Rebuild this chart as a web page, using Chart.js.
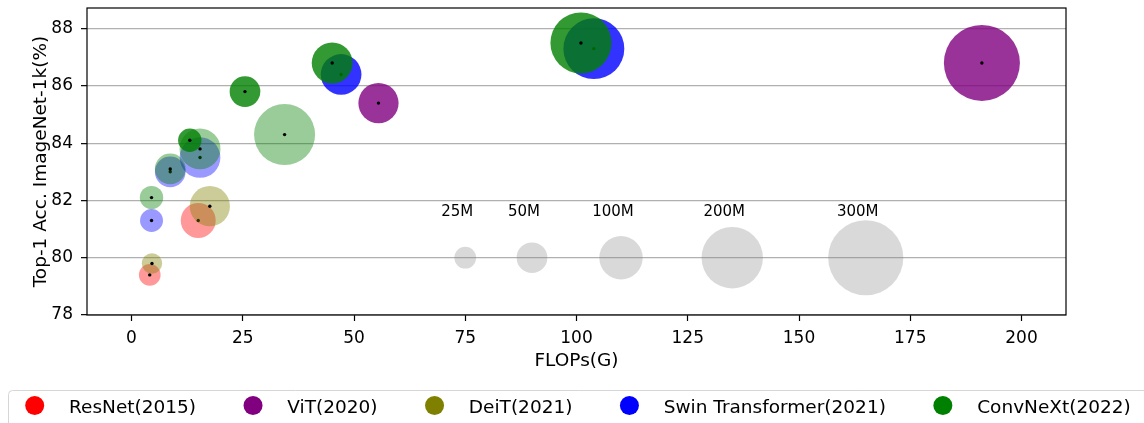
<!DOCTYPE html>
<html>
<head>
<meta charset="utf-8">
<script src="https://cdn.jsdelivr.net/npm/chart.js@4.4.1/dist/chart.umd.min.js"></script>
<style>
  body { margin: 0; background: #fff; }
</style>
</head>
<body>
<canvas id="chart" width="1144" height="423"></canvas>
<script>
// FLOPs (G), top-1 acc (%), params (M); in22k = pre-trained on ImageNet-22k (drawn darker)
const resnetFlops = [4.1, 15.0];
const resnetAcc = [79.4, 81.3];
const resnetParams = [25, 65];
const resnetIn22k = [false, false];

const vitFlops = [55.5, 191.1];
const vitAcc = [85.4, 86.8];
const vitParams = [86, 307];
const vitIn22k = [true, true];

const deitFlops = [4.6, 17.6];
const deitAcc = [79.8, 81.8];
const deitParams = [22, 86];
const deitIn22k = [false, false];

const swinFlops = [4.5, 8.7, 15.4, 47.1, 103.9];
const swinAcc = [81.3, 83.0, 83.5, 86.4, 87.3];
const swinParams = [28, 50, 88, 88, 197];
const swinIn22k = [false, false, false, true, true];

const convnextFlops = [4.5, 8.7, 15.4, 34.4, 13.1, 25.5, 45.1, 101.0];
const convnextAcc = [82.1, 83.1, 83.8, 84.3, 84.1, 85.8, 86.8, 87.5];
const convnextParams = [29, 50, 89, 198, 29, 50, 89, 198];
const convnextIn22k = [false, false, false, false, true, true, true, true];

// bubble size key
const sizeLabels = ['25M', '50M', '100M', '200M', '300M'];
const sizeFlops = [75, 90, 110, 135, 165];
const sizeAcc = [80, 80, 80, 80, 80];
const sizeParams = [25, 50, 100, 200, 300];

const xTicks = [0, 25, 50, 75, 100, 125, 150, 175, 200];
const yTicks = [78, 80, 82, 84, 86, 88];

const FONT = "'DejaVu Sans', sans-serif";

const families = [
  { label: 'ResNet(2015)', rgb: [255, 0, 0], flops: resnetFlops, acc: resnetAcc, params: resnetParams, in22k: resnetIn22k },
  { label: 'ViT(2020)', rgb: [128, 0, 128], flops: vitFlops, acc: vitAcc, params: vitParams, in22k: vitIn22k },
  { label: 'DeiT(2021)', rgb: [128, 128, 0], flops: deitFlops, acc: deitAcc, params: deitParams, in22k: deitIn22k },
  { label: 'Swin Transformer(2021)', rgb: [0, 0, 255], flops: swinFlops, acc: swinAcc, params: swinParams, in22k: swinIn22k },
  { label: 'ConvNeXt(2022)', rgb: [0, 128, 0], flops: convnextFlops, acc: convnextAcc, params: convnextParams, in22k: convnextIn22k }
];

const radius = p => 2.17 * Math.sqrt(p);
const rgba = (c, a) => `rgba(${c[0]},${c[1]},${c[2]},${a})`;

const datasets = [{
  type: 'bubble',
  label: 'size key',
  data: sizeFlops.map((x, i) => ({ x, y: sizeAcc[i], r: radius(sizeParams[i]) })),
  backgroundColor: 'rgba(128,128,128,0.3)',
  borderWidth: 0,
  order: 20
}];

// lower order is drawn on top: later families cover earlier ones
families.forEach((f, k) => {
  datasets.push({
    type: 'bubble',
    label: f.label,
    data: f.flops.map((x, i) => ({ x, y: f.acc[i], r: radius(f.params[i]) })),
    backgroundColor: f.in22k.map(d => rgba(f.rgb, d ? 0.8 : 0.4)),
    borderWidth: 0,
    order: 10 - 2 * k
  });
  datasets.push({
    type: 'scatter',
    label: f.label + ' centre',
    data: f.flops.map((x, i) => ({ x, y: f.acc[i] })),
    pointRadius: 1.7,
    backgroundColor: '#000',
    borderWidth: 0,
    order: 9 - 2 * k
  });
});

const sizeKeyLabels = {
  id: 'sizeKeyLabels',
  afterDatasetsDraw(chart) {
    const { ctx, scales: { x, y } } = chart;
    ctx.save();
    ctx.font = '15px ' + FONT;
    ctx.fillStyle = '#000';
    ctx.textAlign = 'center';
    ctx.textBaseline = 'alphabetic';
    sizeLabels.forEach((t, i) => {
      ctx.fillText(t, x.getPixelForValue(sizeFlops[i]) - 8, y.getPixelForValue(81.45));
    });
    ctx.restore();
  }
};

const frame = {
  id: 'frame',
  afterDraw(chart) {
    const { ctx, chartArea: a } = chart;
    ctx.save();
    ctx.strokeStyle = '#000';
    ctx.lineWidth = 1.2;
    ctx.strokeRect(a.left, a.top, a.right - a.left, a.bottom - a.top);
    ctx.restore();
  }
};

const boxLegend = {
  id: 'boxLegend',
  afterDraw(chart) {
    const ctx = chart.ctx;
    ctx.save();
    ctx.beginPath();
    ctx.roundRect(8.5, 390.5, 1200, 60, 4);
    ctx.fillStyle = '#fff';
    ctx.fill();
    ctx.strokeStyle = '#d6d6d6';
    ctx.lineWidth = 1;
    ctx.stroke();
    ctx.font = '18.5px ' + FONT;
    ctx.textBaseline = 'alphabetic';
    let cx = 34.7;
    const cy = 405.5;
    families.forEach(f => {
      ctx.beginPath();
      ctx.arc(cx, cy, 9.5, 0, 2 * Math.PI);
      ctx.fillStyle = rgba(f.rgb, 1);
      ctx.fill();
      const tx = cx + 34.3;
      ctx.fillStyle = '#000';
      ctx.fillText(f.label, tx, 413);
      cx = tx + ctx.measureText(f.label).width + 57;
    });
    ctx.restore();
  }
};

new Chart(document.getElementById('chart'), {
  type: 'bubble',
  data: { datasets },
  options: {
    responsive: false,
    animation: false,
    events: [],
    layout: { autoPadding: false, padding: { top: 8, right: 78, left: 0, bottom: 48 } },
    plugins: {
      legend: { display: false },
      tooltip: { enabled: false }
    },
    scales: {
      x: {
        type: 'linear',
        min: -10,
        max: 210,
        afterBuildTicks: s => { s.ticks = xTicks.map(v => ({ value: v })); },
        afterFit: s => { s.height = 60; s.paddingLeft = 0; s.paddingRight = 0; },
        grid: { drawOnChartArea: false, drawTicks: true, tickLength: 6, tickColor: '#000', tickWidth: 1.2 },
        border: { display: false },
        ticks: { color: '#000', font: { family: FONT, size: 17 }, padding: 7, maxRotation: 0, autoSkip: false },
        title: { display: true, text: 'FLOPs(G)', color: '#000', font: { family: FONT, size: 18.5 }, padding: { top: 0, bottom: 3 } }
      },
      y: {
        type: 'linear',
        min: 78,
        max: 88.72,
        z: 1,
        afterBuildTicks: s => { s.ticks = yTicks.map(v => ({ value: v })); },
        afterFit: s => { s.width = 87; s.paddingTop = 0; s.paddingBottom = 0; },
        grid: { color: '#b0b0b0', lineWidth: 1.3, drawTicks: true, tickLength: 6, tickColor: '#000', tickWidth: 1.2 },
        border: { display: false },
        ticks: { color: '#000', font: { family: FONT, size: 17 }, padding: 8 },
        title: { display: true, text: 'Top-1 Acc. ImageNet-1k(%)', color: '#000', font: { family: FONT, size: 18.5 }, padding: { top: 30, bottom: 0 } }
      }
    }
  },
  plugins: [sizeKeyLabels, frame, boxLegend]
});
</script>
</body>
</html>
